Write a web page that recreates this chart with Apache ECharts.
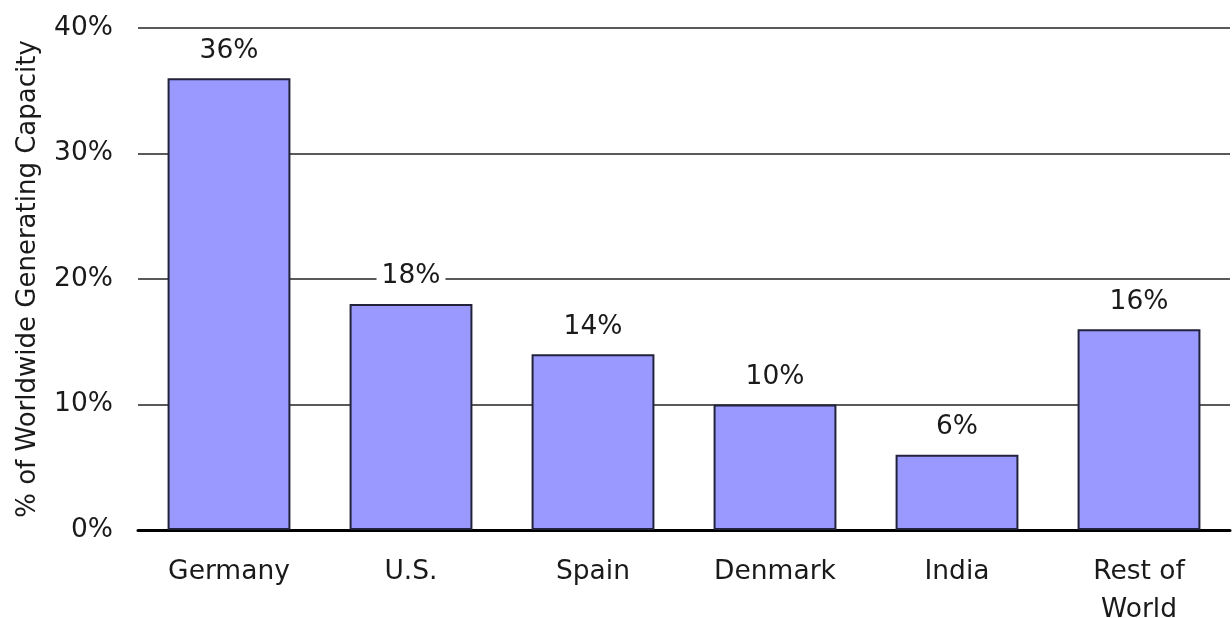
<!DOCTYPE html>
<html>
<head>
<meta charset="utf-8">
<script src="https://cdn.jsdelivr.net/npm/echarts@6/dist/echarts.min.js"></script>
<style>html,body{margin:0;padding:0;background:#fff;overflow:hidden;}#c{width:1232px;height:618px;}</style>
</head>
<body>
<div id="c"></div>
<script>
const categories = ['Germany', 'U.S.', 'Spain', 'Denmark', 'India', 'Rest of\nWorld'];
const values = [36, 18, 14, 10, 6, 16];
const yTicks = [0, 10, 20, 30, 40];
const yTitle = '% of Worldwide Generating Capacity';

const FONT = 'DejaVu Sans';
const chart = echarts.init(document.getElementById('c'), null, {renderer: 'canvas', width: 1232, height: 618});
chart.setOption({
  animation: false,
  backgroundColor: '#fff',
  grid: {left: 138, right: 2, top: 28, bottom: 88, containLabel: false, outerBoundsMode: 'none'},
  xAxis: {
    type: 'category',
    data: categories,
    axisLine: {lineStyle: {color: '#000', width: 3}},
    axisTick: {show: false},
    axisLabel: {color: '#1a1a1a', fontFamily: FONT, fontSize: 26.5, margin: 23, lineHeight: 38}
  },
  yAxis: {
    type: 'value',
    min: yTicks[0], max: yTicks[yTicks.length - 1], interval: 10,
    name: yTitle,
    nameLocation: 'middle',
    nameGap: 97,
    nameTextStyle: {color: '#1a1a1a', fontFamily: FONT, fontSize: 26},
    axisLine: {show: false},
    axisTick: {show: false},
    splitLine: {lineStyle: {color: '#5a5a5a', width: 2}},
    axisLabel: {color: '#1a1a1a', fontFamily: FONT, fontSize: 26.5, margin: 25, formatter: v => v + '%'}
  },
  series: [{
    type: 'bar',
    data: values,
    barWidth: '67.5%',
    itemStyle: {color: '#9999ff', borderColor: '#22223a', borderWidth: 2},
    label: {
      show: true, position: 'top', distance: 14,
      formatter: p => p.value + '%',
      color: '#1a1a1a', fontFamily: FONT, fontSize: 26.5,
      backgroundColor: '#fff', padding: [0, 5]
    }
  }]
});
</script>
</body>
</html>
